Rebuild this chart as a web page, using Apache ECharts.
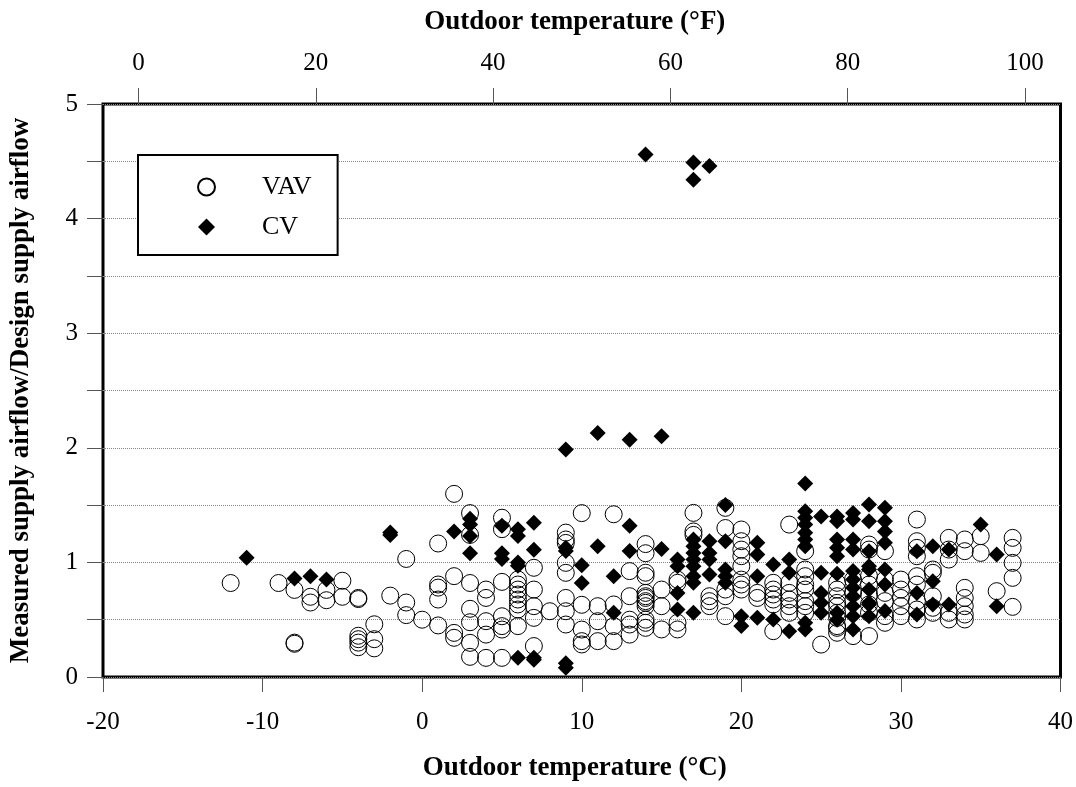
<!DOCTYPE html>
<html><head><meta charset="utf-8">
<script src="https://cdn.jsdelivr.net/npm/echarts@6/dist/echarts.min.js"></script>
<style>html,body{margin:0;padding:0;background:#fff}#c{width:1076px;height:787px}</style>
</head><body><div id="c"></div>
<script>
// VAV: outdoor temperature (°C) and measured/design supply airflow ratio
const vavTemp = [-12,-9,-8,-8,-8,-7,-7,-6,-6,-5,-5,-4,-4,-4,-4,-4,-4,-3,-3,-3,-2,-1,-1,-1,0,
  1,1,1,1,1, 2,2,2,2, 3,3,3,3,3,3,3, 4,4,4,4,4, 5,5,5,5,5,5,5, 6,6,6,6,6,6,6,6, 7,7,7,7,7, 8,
  9,9,9,9,9,9,9,9, 10,10,10,10,10, 11,11,11, 12,12,12,12, 13,13,13,13,13,
  14,14,14,14,14,14,14,14,14,14,14,14,14, 15,15,15, 16,16,16,16, 17,17,17, 18,18,18,
  19,19,19,19,19, 20,20,20,20,20,20,20,20, 21,21, 22,22,22,22,22,22, 23,23,23,23,23,23,
  24,24,24,24,24,24,24,24, 25, 26,26,26,26,26,26,26,26,26,26, 27,27,27, 28,28,28,28,28,28,28,28,
  29,29,29,29,29,29, 30,30,30,30,30, 31,31,31,31,31,31,31,31,31, 32,32,32,32,32, 33,33,33,33,33,
  34,34,34,34,34,34,34, 35,35, 36, 37,37,37,37,37];
const vavRatio = [0.82,0.82,0.76,0.30,0.29,0.70,0.65,0.76,0.67,0.84,0.70,0.69,0.68,0.36,0.33,0.30,0.26,0.46,0.33,0.25,0.71,1.03,0.65,0.54,0.50,
  1.165,0.807,0.78,0.676,0.45, 1.598,0.88,0.385,0.342, 1.43,1.24,0.82,0.595,0.478,0.298,0.176, 0.763,0.69,0.487,0.37,0.167,
  1.39,1.29,0.83,0.53,0.444,0.414,0.167, 0.851,0.807,0.763,0.72,0.676,0.633,0.589,0.444, 0.953,0.763,0.618,0.516,0.27, 0.574,
  1.26,1.20,1.17,0.996,0.909,0.69,0.574,0.458, 1.43,0.63,0.414,0.313,0.284, 0.618,0.487,0.313, 1.42,0.633,0.444,0.313,
  0.924,0.705,0.50,0.458,0.37,
  1.16,1.08,0.91,0.88,0.734,0.705,0.69,0.662,0.647,0.618,0.50,0.473,0.429, 0.763,0.618,0.415, 0.85,0.822,0.473,0.415,
  1.432,1.27,1.24, 0.705,0.662,0.618,
  1.476,1.30,0.763,0.705,0.531, 1.287,1.185,1.112,1.054,0.967,0.85,0.807,0.763, 0.734,0.69, 0.822,0.763,0.72,0.676,0.633,0.40,
  1.33,0.822,0.734,0.676,0.618,0.56,
  1.098,0.938,0.88,0.807,0.763,0.662,0.618,0.56, 0.283, 0.822,0.763,0.705,0.647,0.618,0.56,0.516,0.444,0.429,0.386,
  0.85,0.734,0.357, 1.156,1.112,0.88,0.807,0.72,0.633,0.56,0.357,
  1.098,0.85,0.734,0.662,0.531,0.473, 0.85,0.763,0.69,0.618,0.531, 1.374,1.185,1.127,1.054,0.88,0.807,0.662,0.589,0.502,
  0.938,0.909,0.705,0.604,0.56, 1.214,1.112,1.025,0.56,0.502,
  1.20,1.098,0.778,0.69,0.618,0.545,0.502, 1.229,1.083, 0.749, 1.214,1.127,0.996,0.865,0.612];

// CV: outdoor temperature (°C) and measured/design supply airflow ratio
const cvTemp = [-11,-8,-7,-6,-2,-2, 2,3,3,3,3, 5,5,5, 6,6,6,6,6, 7,7,7,7, 9,9,9,9,9, 10,10, 11,11, 12,12,
  13,13,13, 14, 15,15, 16,16,16,16, 17,17,17,17,17,17,17,17,17,17, 18,18,18,18,18, 19,19,19,19,19,
  20,20, 21,21,21,21, 22,22, 23,23,23, 24,24,24,24,24,24,24,24,24, 25,25,25,25,25,
  26,26,26,26,26,26,26,26, 27,27,27,27,27,27,27,27,27,27,27, 28,28,28,28,28,28,28,28,28,
  29,29,29,29,29,29,29, 31,31,31, 32,32,32, 33,33, 35, 36,36];
const cvRatio = [1.04,0.86,0.88,0.85,1.26,1.24, 1.27,1.38,1.33,1.23,1.08, 1.32,1.08,1.03, 1.29,1.23,1.0,0.97,0.167,
  1.345,1.11,0.167,0.15, 1.985,1.127,1.10,0.12,0.08, 0.976,0.82, 2.13,1.14, 0.88,0.56,
  2.07,1.32,1.10, 4.56, 2.10,1.118, 1.025,0.967,0.734,0.589,
  4.49,4.34,1.20,1.142,1.083,1.025,0.967,0.88,0.822,0.56, 4.46,1.185,1.083,1.025,0.894, 1.50,1.185,0.938,0.88,0.822,
  0.531,0.444, 1.171,1.069,0.88,0.516, 0.982,0.502, 1.025,0.909,0.40,
  1.688,1.447,1.389,1.331,1.258,1.20,1.142,0.473,0.415, 1.40,0.909,0.734,0.647,0.56,
  1.40,1.36,1.20,1.127,1.054,0.90,0.56,0.50,
  1.432,1.374,1.20,1.112,0.924,0.85,0.778,0.705,0.618,0.531,0.415,
  1.505,1.36,1.098,0.967,0.938,0.763,0.647,0.633,0.531,
  1.476,1.36,1.27,1.171,0.938,0.807,0.575, 1.098,0.734,0.545, 1.142,0.836,0.633, 1.112,0.633, 1.331, 1.069,0.618];

const fahrenheitTicks = [0, 20, 40, 60, 80, 100];
const yLabels = [0, 1, 2, 3, 4, 5];

const vavData = vavTemp.map((t, i) => [t, vavRatio[i]]);
const cvData = cvTemp.map((t, i) => [t, cvRatio[i]]);

const FONT = '"Liberation Serif", "Times New Roman", serif';
const chart = echarts.init(document.getElementById('c'), null, {renderer: 'canvas'});
const tickStyle = {color: '#555', width: 1};
chart.setOption({
  animation: false,
  backgroundColor: '#fff',
  grid: {left: 103, right: 15, top: 104, bottom: 109, show: true, borderColor: '#000', borderWidth: 3, backgroundColor: 'transparent'},
  legend: {
    orient: 'vertical', left: 138, top: 155,
    padding: [19, 26, 15, 59], itemGap: 14, itemWidth: 17, itemHeight: 17,
    backgroundColor: '#fff', borderColor: '#000', borderWidth: 2,
    textStyle: {fontFamily: FONT, fontSize: 26, color: '#000', padding: [0, 0, 0, 42]},
    data: [{name: 'VAV', icon: 'circle'}, {name: 'CV', icon: 'diamond'}]
  },
  xAxis: [
    {
      type: 'value', position: 'bottom', min: -20, max: 40, interval: 10,
      axisLine: {show: false, onZero: false},
      axisTick: {show: true, length: 15, lineStyle: tickStyle},
      axisLabel: {margin: 33, fontFamily: FONT, fontSize: 25, color: '#000'},
      splitLine: {show: false},
      name: 'Outdoor temperature (°C)', nameLocation: 'middle', nameGap: 78,
      nameTextStyle: {fontFamily: FONT, fontSize: 27, fontWeight: 'bold', color: '#000', padding: [0, 14, 0, 0]}
    },
    {
      type: 'value', position: 'top', min: -4, max: 104,
      axisLine: {show: false, onZero: false},
      axisTick: {show: true, length: 16, lineStyle: tickStyle, customValues: fahrenheitTicks},
      axisLabel: {margin: 28, fontFamily: FONT, fontSize: 25, color: '#000', customValues: fahrenheitTicks},
      splitLine: {show: false},
      name: 'Outdoor temperature (°F)', nameLocation: 'middle', nameGap: 68,
      nameTextStyle: {fontFamily: FONT, fontSize: 27, fontWeight: 'bold', color: '#000', padding: [0, 14, 0, 0]}
    }
  ],
  yAxis: {
    type: 'value', min: 0, max: 5, interval: 0.5,
    axisLine: {show: false, onZero: false},
    axisTick: {show: true, length: 16, lineStyle: tickStyle},
    axisLabel: {margin: 25, fontFamily: FONT, fontSize: 25, color: '#000',
      formatter: v => (yLabels.indexOf(v) >= 0 ? String(v) : '')},
    splitLine: {show: true, lineStyle: {color: '#888', type: 'dotted', width: 1}},
    name: 'Measured supply airflow/Design supply airflow', nameLocation: 'middle', nameGap: 68,
    nameTextStyle: {fontFamily: FONT, fontSize: 27, fontWeight: 'bold', color: '#000'}
  },
  series: [
    {type: 'scatter', name: 'VAV', symbol: 'circle', symbolSize: 17, z: 2,
     itemStyle: {color: 'rgba(255,255,255,0)', borderColor: '#000', borderWidth: 1, opacity: 1},
     data: vavData},
    {type: 'scatter', name: 'CV', symbol: 'diamond', symbolSize: 16, z: 3,
     itemStyle: {color: '#000', opacity: 1},
     data: cvData}
  ]
});
</script></body></html>
